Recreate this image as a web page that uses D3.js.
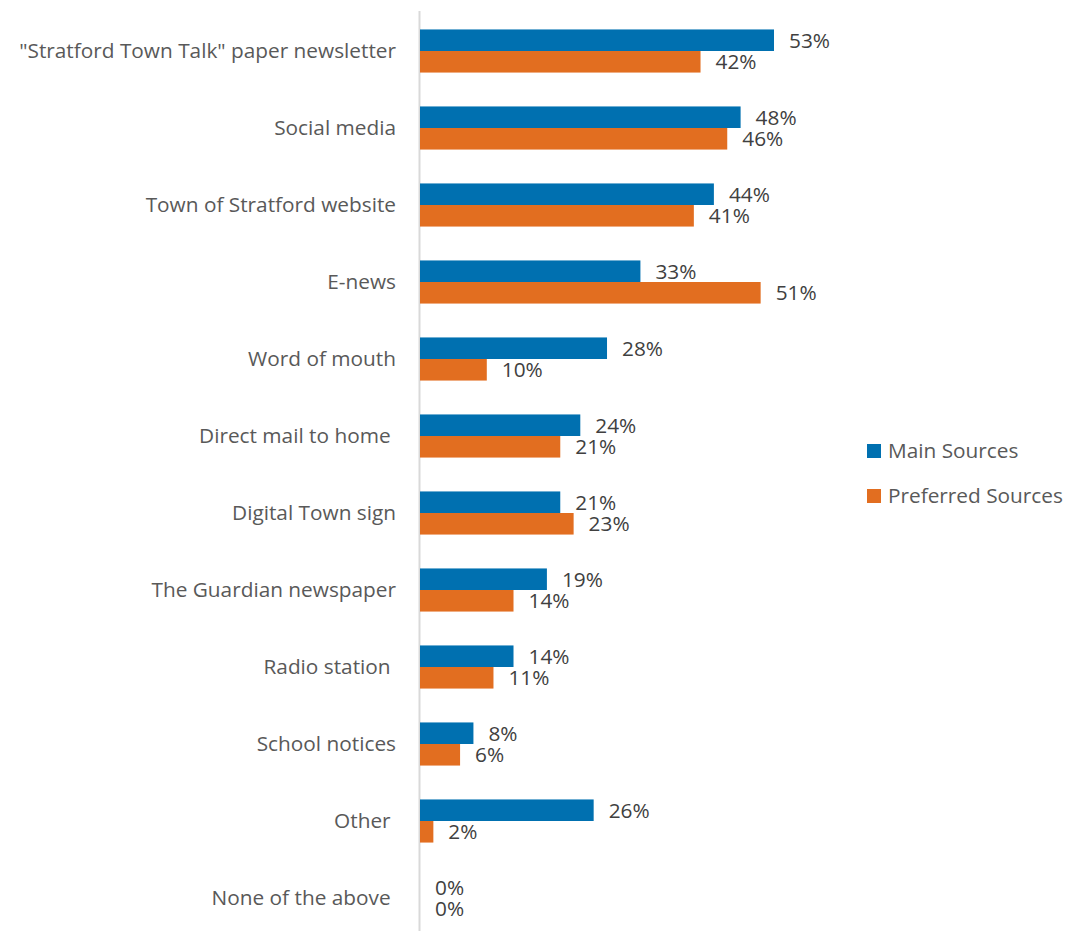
<!DOCTYPE html>
<html>
<head>
<meta charset="utf-8">
<script src="https://cdn.jsdelivr.net/npm/d3@7"></script>
<style>
  html, body { margin: 0; padding: 0; background: #fff; }
  svg { display: block; }
  text { font-family: "Open Sans", "Noto Sans", sans-serif; }
</style>
</head>
<body>
<script>
// Survey categories (top to bottom) and share of respondents per series (%)
const categories = [
  "\"Stratford Town Talk\" paper newsletter",
  "Social media",
  "Town of Stratford website",
  "E-news",
  "Word of mouth",
  "Direct mail to home ",
  "Digital Town sign",
  "The Guardian newspaper",
  "Radio station ",
  "School notices",
  "Other ",
  "None of the above "
];
const mainSources      = [53, 48, 44, 33, 28, 24, 21, 19, 14, 8, 26, 0];
const preferredSources = [42, 46, 41, 51, 10, 21, 23, 14, 11, 6, 2, 0];
const seriesNames  = ["Main Sources", "Preferred Sources"];
const seriesColors = ["#0070B0", "#E26E20"];

const width = 1072, height = 931;
const fontSize = 20.8;
const svg = d3.select("body").append("svg")
  .attr("width", width).attr("height", height);

const x = d3.scaleLinear().domain([0, 53]).range([420, 774]);
const y = d3.scaleBand().domain(categories).range([12.5, 936.5]).paddingInner(0.44).paddingOuter(0.22);
const sub = d3.scaleBand().domain([0, 1]).range([0, y.bandwidth()]);

// vertical category axis line
svg.append("line")
  .attr("x1", 419.5).attr("x2", 419.5)
  .attr("y1", 11).attr("y2", height)
  .attr("stroke", "#d9d9d9").attr("stroke-width", 2);

// category labels
const yAxis = d3.axisLeft(y).tickSize(0).tickPadding(0);
const gAxis = svg.append("g").attr("transform", "translate(396,0)").call(yAxis);
gAxis.select(".domain").remove();
gAxis.selectAll("text")
  .attr("font-size", fontSize)
  .attr("fill", "#595959")
  .attr("font-family", "'Open Sans', sans-serif")
  .style("white-space", "pre")
  .attr("dy", "0.35em");

const series = [mainSources, preferredSources];
const rows = categories.map((c, i) => series.map((s, k) => ({ c, k, v: s[i] })));

const groups = svg.append("g").selectAll("g").data(rows).join("g")
  .attr("transform", (d, i) => `translate(0,${y(categories[i])})`);

groups.selectAll("rect").data(d => d).join("rect")
  .attr("x", x(0))
  .attr("y", d => sub(d.k))
  .attr("width", d => x(d.v) - x(0))
  .attr("height", sub.bandwidth())
  .attr("fill", d => seriesColors[d.k]);

groups.selectAll("text.val").data(d => d).join("text")
  .attr("class", "val")
  .attr("x", d => x(d.v) + 15)
  .attr("y", d => sub(d.k) + sub.bandwidth() / 2)
  .attr("dy", "0.35em")
  .attr("font-size", fontSize)
  .attr("fill", "#404040")
  .text(d => d.v + "%");

// legend
const legend = svg.append("g").selectAll("g").data(seriesNames).join("g")
  .attr("transform", (d, i) => `translate(867,${444 + i * 45})`);
legend.append("rect").attr("width", 14).attr("height", 14)
  .attr("fill", (d, i) => seriesColors[i]);
legend.append("text")
  .attr("x", 21).attr("y", 7).attr("dy", "0.35em")
  .attr("font-size", fontSize).attr("fill", "#595959")
  .text(d => d);
</script>
</body>
</html>
